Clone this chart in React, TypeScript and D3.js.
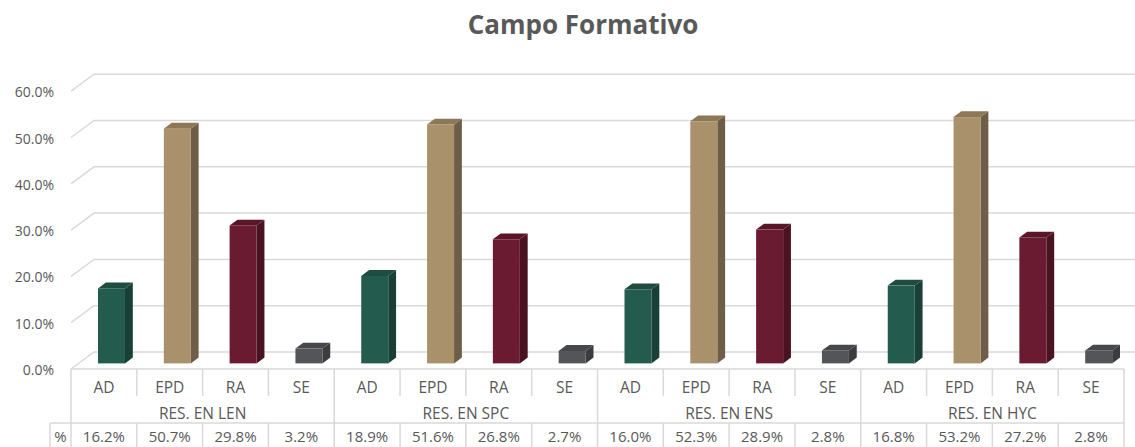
import React from "react";
import * as d3 from "d3";

const groups = ["RES. EN LEN", "RES. EN SPC", "RES. EN ENS", "RES. EN HYC"];
const levels = ["AD", "EPD", "RA", "SE"];
const values = [
  [16.2, 50.7, 29.8, 3.2],
  [18.9, 51.6, 26.8, 2.7],
  [16.0, 52.3, 28.9, 2.8],
  [16.8, 53.2, 27.2, 2.8],
];
const yTicks = [0, 10, 20, 30, 40, 50, 60];

const faceColors: Record<string, [string, string, string]> = {
  AD: ["#235B4E", "#193F37", "#1E4C41"],
  EPD: ["#A9916C", "#6E5E47", "#8C7756"],
  RA: ["#6A1A31", "#4A1322", "#5A1629"],
  SE: ["#535558", "#3A3C3F", "#46484B"],
};

const W = 1135;
const H = 447;
const X0 = 71;
const X1 = 1124;
const Y0 = 369;
const DX = 23;
const DY = 17;
const TEXT = "#595959";
const GRID = "#D9D9D9";
const FONT = "'Open Sans', Lato, sans-serif";

export default function App() {
  const items = groups.flatMap((g, gi) =>
    levels.map((l, li) => ({ key: `${gi}-${li}`, group: g, level: l, value: values[gi][li] }))
  );
  const x = d3.scaleBand<string>().domain(items.map((d) => d.key)).range([X0, X1]).padding(0);
  const y = d3.scaleLinear().domain([0, 60]).range([Y0, Y0 - 277.8]);
  const bw = x.bandwidth();
  const barW = 27;
  const dF = 0.33;
  const dB = 0.67;
  const groupW = bw * levels.length;

  return (
    <svg width={W} height={H} style={{ position: "absolute", left: 0, top: 0, background: "#fff" }}>
      <text x={583} y={34} textAnchor="middle" fontFamily={FONT} fontWeight="bold" fontSize={26} fill={TEXT}>
        Campo Formativo
      </text>
      {/* gridlines */}
      {yTicks.map((t) => {
        const yf = y(t);
        return (
          <g key={t}>
            <path d={`M${X0},${yf} L${X0 + DX},${yf - DY} L${W + 20},${yf - DY}`} fill="none" stroke={GRID} strokeWidth={1.5} />
            <text x={54} y={yf + 6} textAnchor="end" fontFamily={FONT} fontSize={14} fill={TEXT}>
              {`${t.toFixed(1)}%`}
            </text>
          </g>
        );
      })}
      {/* bars */}
      {items.map((d) => {
        const cx = (x(d.key) as number) + bw / 2;
        const xl = cx - barW / 2 + dF * DX;
        const xr = xl + barW;
        const yb = Y0 - dF * DY;
        const yt = yb - (Y0 - y(d.value));
        const ddx = (dB - dF) * DX;
        const ddy = (dB - dF) * DY;
        const [front, side, top] = faceColors[d.level];
        return (
          <g key={d.key}>
            <path d={`M${xr},${yt} L${xr + ddx},${yt - ddy} L${xr + ddx},${yb - ddy} L${xr},${yb} Z`} fill={side} />
            <path d={`M${xl},${yt} L${xl + ddx},${yt - ddy} L${xr + ddx},${yt - ddy} L${xr},${yt} Z`} fill={top} />
            <rect x={xl} y={yt} width={barW} height={yb - yt} fill={front} />
          </g>
        );
      })}
      {/* table */}
      <g stroke={GRID} strokeWidth={1.5} fill="none">
        <line x1={X0} x2={X1} y1={Y0} y2={Y0} />
        <line x1={50} x2={X1} y1={423} y2={423} />
        <line x1={50} x2={50} y1={423} y2={H} />
        {items.map((d, i) => {
          const xx = x(d.key) as number;
          const isGroup = i % levels.length === 0;
          return isGroup ? (
            <line key={d.key} x1={xx} x2={xx} y1={Y0} y2={H} />
          ) : (
            <g key={d.key}>
              <line x1={xx} x2={xx} y1={Y0} y2={396} />
              <line x1={xx} x2={xx} y1={423} y2={H} />
            </g>
          );
        })}
        <line x1={X1} x2={X1} y1={Y0} y2={H} />
      </g>
      <g fontFamily={FONT} fontSize={15.5} fill={TEXT} textAnchor="middle">
        {items.map((d) => {
          const cx = (x(d.key) as number) + bw / 2;
          return (
            <g key={d.key}>
              <text x={cx} y={393}>{d.level}</text>
              <text x={cx} y={442} fontSize={15}>{`${d.value.toFixed(1)}%`}</text>
            </g>
          );
        })}
        {groups.map((g, gi) => (
          <text key={g} x={X0 + gi * groupW + groupW / 2} y={419}>{g}</text>
        ))}
        <text x={60.5} y={442} fontSize={15}>%</text>
      </g>
    </svg>
  );
}
